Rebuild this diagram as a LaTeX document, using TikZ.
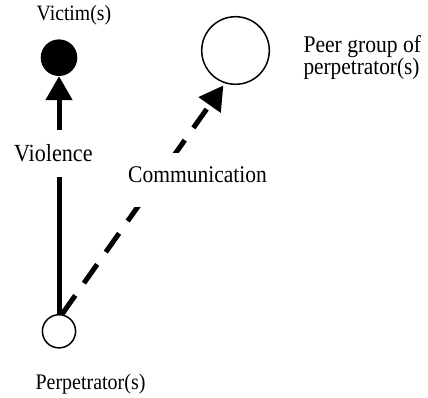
\documentclass[tikz,border=0pt]{standalone}
\usepackage{fontspec}
\setmainfont{Liberation Serif}[FakeStretch=0.9]
\usetikzlibrary{arrows.meta}
\tikzset{
  victimdot/.style={circle, fill=black, draw=none, inner sep=0pt, minimum size=36.6pt},
  hollow/.style={circle, draw=black, fill=white, line width=1.5pt, inner sep=0pt},
  conn/.style={line width=5pt, draw=black},
  bigtip/.style={-{Triangle[length=24pt,width=26pt]}},
  lbl/.style={inner sep=0pt, anchor=base, text=black},
}
\begin{document}
\begin{tikzpicture}[x=1pt,y=-1pt]
\useasboundingbox (0,0) rectangle (428,398);
% circles
\node[victimdot] (victim) at (59,57.7) {};
\node[hollow, minimum size=33.2pt] (perp) at (59,331.3) {};
\node[hollow, minimum size=67.6pt] (peer) at (235.5,50.5) {};
% connectors
\draw[conn, bigtip] (perp.north) -- (victim.south);
\draw[conn, bigtip, dash pattern=on 23pt off 15pt, shorten >=2.5pt] (perp.80) -- (peer.252);
% connector labels (white boxes break the lines)
\node[lbl, fill=white, font=\fontsize{24.6pt}{28pt}\selectfont, text height=31.7pt, text depth=15.3pt] (violence) at (53.3,161.7) {Violence};
\node[lbl, fill=white, font=\fontsize{23.9pt}{28pt}\selectfont, text height=29.7pt, text depth=24.3pt] (comm) at (197.5,182.7) {Communication};
% node labels
\node[lbl, font=\fontsize{21.9pt}{26pt}\selectfont] (victimlbl) at (73.9,20.7) {Victim(s)};
\node[lbl, font=\fontsize{22.2pt}{26pt}\selectfont] (perplbl) at (90.5,389.5) {Perpetrator(s)};
\node[lbl, anchor=base west, font=\fontsize{24pt}{28pt}\selectfont] (peerlbla) at (303.3,52.3) {Peer group of};
\node[lbl, anchor=base west, font=\fontsize{23.7pt}{28pt}\selectfont] (peerlblb) at (303.3,75) {perpetrator(s)};
\end{tikzpicture}
\end{document}
